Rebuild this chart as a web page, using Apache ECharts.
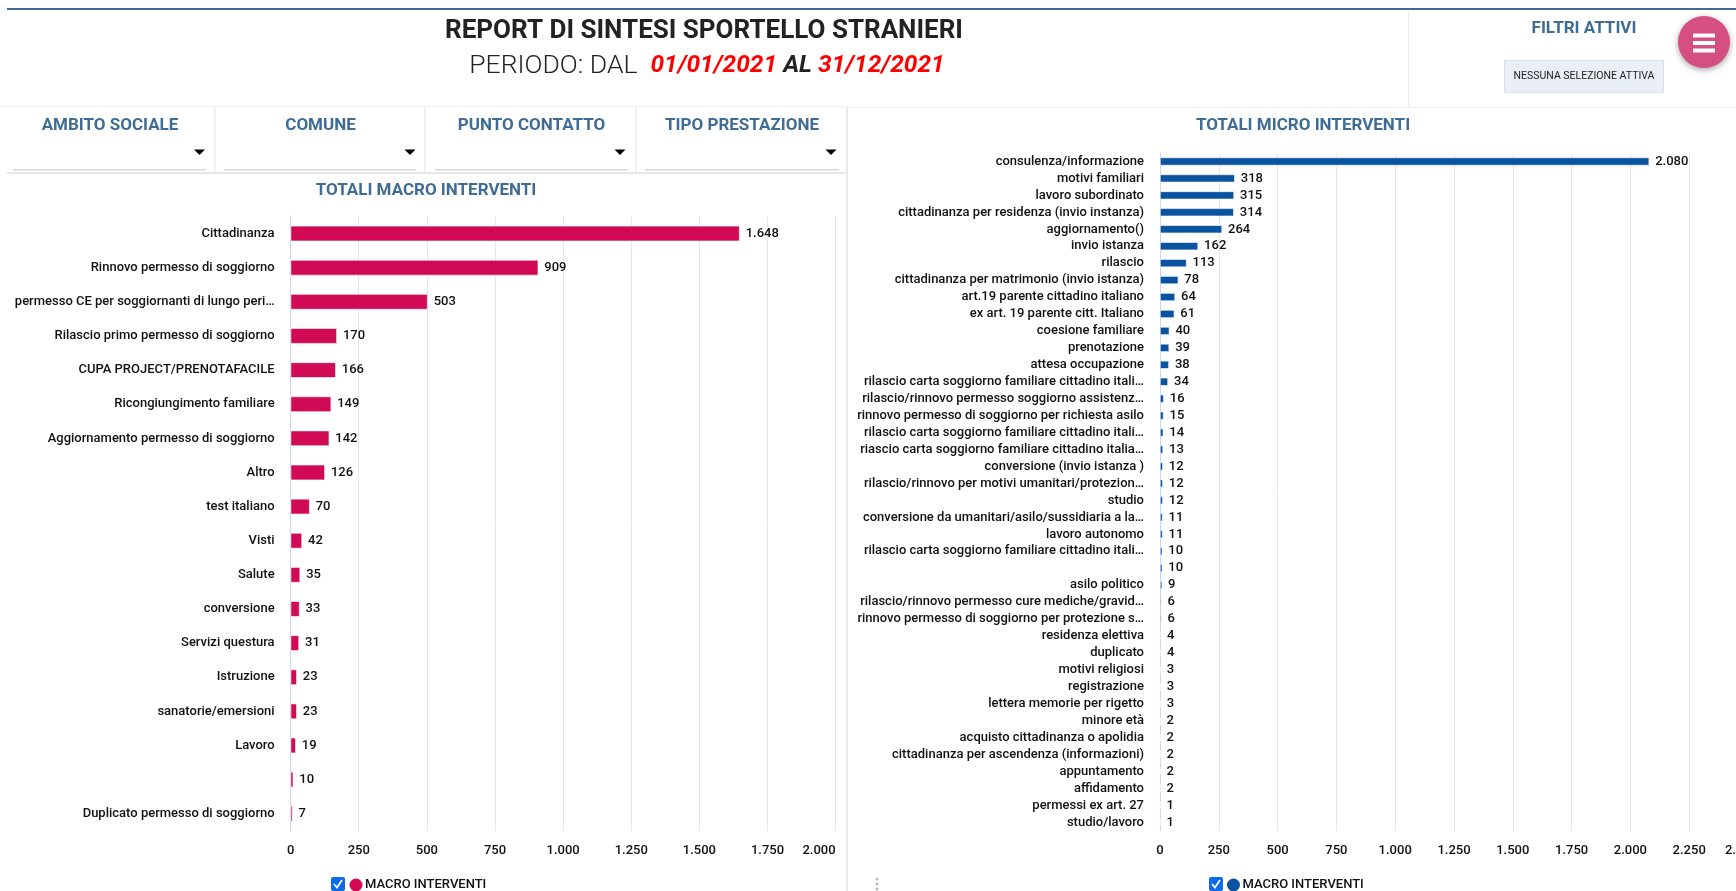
<!DOCTYPE html>
<html><head><meta charset="utf-8">
<style>html,body{margin:0;padding:0;background:#fff;overflow:hidden}#c{width:1736px;height:891px}</style>
<script src="https://cdn.jsdelivr.net/npm/echarts@6/dist/echarts.min.js"></script>
</head><body><div id="c"></div>
<script>
const macroCategories = ["Cittadinanza","Rinnovo permesso di soggiorno","permesso CE per soggiornanti di lungo peri…","Rilascio primo permesso di soggiorno","CUPA PROJECT/PRENOTAFACILE","Ricongiungimento familiare","Aggiornamento permesso di soggiorno","Altro","test italiano","Visti","Salute","conversione","Servizi questura","Istruzione","sanatorie/emersioni","Lavoro","","Duplicato permesso di soggiorno"];
const macroValues = [1648,909,503,170,166,149,142,126,70,42,35,33,31,23,23,19,10,7];
const microCategories = ["consulenza/informazione","motivi familiari","lavoro subordinato","cittadinanza per residenza (invio instanza)","aggiornamento()","invio istanza","rilascio","cittadinanza per matrimonio (invio istanza)","art.19 parente cittadino italiano","ex art. 19 parente citt. Italiano","coesione familiare","prenotazione","attesa occupazione","rilascio carta soggiorno familiare cittadino itali…","rilascio/rinnovo permesso soggiorno assistenz…","rinnovo permesso di soggiorno per richiesta asilo","rilascio carta soggiorno familiare cittadino itali…","riascio carta soggiorno familiare cittadino italia…","conversione (invio istanza )","rilascio/rinnovo per motivi umanitari/protezion…","studio","conversione da umanitari/asilo/sussidiaria a la…","lavoro autonomo","rilascio carta soggiorno familiare cittadino itali…","","asilo politico","rilascio/rinnovo permesso cure mediche/gravid…","rinnovo permesso di soggiorno per protezione s…","residenza elettiva","duplicato","motivi religiosi","registrazione","lettera memorie per rigetto","minore età","acquisto cittadinanza o apolidia","cittadinanza per ascendenza (informazioni)","appuntamento","affidamento","permessi ex art. 27","studio/lavoro"];
const microValues = [2080,318,315,314,264,162,113,78,64,61,40,39,38,34,16,15,14,13,12,12,12,11,11,10,10,9,6,6,4,4,3,3,3,2,2,2,2,2,1,1];
const filterLabels = ["AMBITO SOCIALE","COMUNE","PUNTO CONTATTO","TIPO PRESTAZIONE"];

const FONT = 'Roboto';
const BLUE = '#3f6c94';
const fmt = v => String(v).replace(/\B(?=(\d{3})+$)/g,'.');
const txt = (x,y,text,size,weight,fill,extra) => ({type:'text',silent:true,x,y,style:Object.assign({text,font:`${weight} ${size}px ${FONT}`,fill,align:'center',verticalAlign:'middle'},extra||{})});
const rect = (x,y,w,h,fill,extra) => ({type:'rect',silent:true,shape:{x,y,width:w,height:h},style:Object.assign({fill},extra||{})});

const g = [];
g.push(rect(7,8,1729,2,BLUE));
g.push(rect(1408,11,1,95,'#e8ebf0'));
g.push(rect(847,107,889,1,'#eeeeee'));
g.push(rect(0,106,847,1,'#f2f2f2'));
g.push(rect(846,107,2,784,'#ececec'));
g.push(rect(7,172,840,2,'#e6e6e6'));
g.push(txt(704,31,'REPORT DI SINTESI SPORTELLO STRANIERI',26,'bold','#222'));
g.push({type:'text',silent:true,x:707,y:66,style:{
  text:'{a|PERIODO: DAL  }{b|01/01/2021 }{c|AL }{b|31/12/2021}',
  align:'center',verticalAlign:'middle',
  rich:{a:{font:`300 26.5px ${FONT}`,fill:'#222'},b:{font:`italic bold 24.5px ${FONT}`,fill:'#f00'},c:{font:`italic bold 24.5px ${FONT}`,fill:'#222'}}
}});
g.push(txt(1584,29,'FILTRI ATTIVI',17,'bold',BLUE));
g.push(rect(1504.5,60.5,159,32,'#eaeff6',{stroke:'#d5e2ee',lineWidth:1}));
g.push(txt(1584,76.5,'NESSUNA SELEZIONE ATTIVA',10.5,'normal','#222'));
g.push({type:'circle',silent:true,shape:{cx:1704,cy:42,r:26},style:{fill:'#d64f82',shadowBlur:6,shadowColor:'rgba(0,0,0,.35)',shadowOffsetY:2}});
[33.5,41,48.5].forEach(y=>g.push(rect(1693,y,22,4,'#fff',{})));

const filterCentres=[110,320.5,531.5,742], lineX=[[13,193],[224,192],[435,193],[645,194]], arrowX=[199.5,410,620,831], divX=[214,424,635];
filterLabels.forEach((t,i)=>{
  g.push(txt(filterCentres[i],126,t,17,'bold',BLUE));
  g.push(rect(lineX[i][0],169,lineX[i][1],1.5,'#d8d8d8'));
  g.push({type:'polygon',silent:true,shape:{points:[[arrowX[i]-5.5,149.5],[arrowX[i]+5.5,149.5],[arrowX[i],155]]},style:{fill:'#000'}});
  if(i<3) g.push(rect(divX[i],107,1.5,66,'#ececec'));
});
g.push(txt(426,191,'TOTALI MACRO INTERVENTI',17,'bold',BLUE));
g.push(txt(1303,126,'TOTALI MICRO INTERVENTI',17,'bold',BLUE));
[879,884,889].forEach(y=>g.push({type:'circle',silent:true,shape:{cx:877,cy:y,r:1.5},style:{fill:'#bbb'}}));
[[331,877],[1209,877]].forEach(p=>{
  g.push({type:'rect',silent:true,shape:{x:p[0],y:p[1],width:14,height:14,r:2},style:{fill:'#0b6bea'}});
  g.push({type:'polyline',silent:true,shape:{points:[[p[0]+3,p[1]+7],[p[0]+6,p[1]+10.5],[p[0]+11,p[1]+3]]},style:{stroke:'#fff',lineWidth:1.8,fill:null}});
});

const catAxis=(idx,data,margin,padTop)=>({type:'category',gridIndex:idx,inverse:true,data,
  axisLine:{show:true,lineStyle:{color:'#ccd6eb',width:1}},axisTick:{show:false},splitLine:{show:false},
  axisLabel:{interval:0,margin,color:'#111',fontFamily:FONT,fontWeight:500,fontSize:13,align:'right',padding:[padTop,0,0,0]}});
const labelFont={color:'#111',fontFamily:FONT,fontWeight:500,fontSize:13};
const valAxis=(idx,max,alignMax,formatter)=>({type:'value',gridIndex:idx,min:0,max,interval:250,
  axisLine:{show:false},axisTick:{show:false},splitLine:{show:true,lineStyle:{color:'#e6e6e6',width:1}},
  axisLabel:Object.assign({margin:13,formatter,alignMaxLabel:alignMax,showMaxLabel:true,hideOverlap:false,
    rich:{last:Object.assign({padding:[0,13,0,0]},labelFont)}},labelFont)});
const bar=(idx,data,color,w)=>({type:'bar',name:'MACRO INTERVENTI',xAxisIndex:idx,yAxisIndex:idx,data,barWidth:w,animation:false,
  itemStyle:{color,borderColor:'#fff',borderWidth:0.6},
  label:Object.assign({show:true,position:'right',distance:6,padding:[4,0,0,0],formatter:p=>fmt(p.value)},labelFont)});
const leg=(left,color)=>({left,top:876.5,padding:0,itemWidth:15,itemHeight:16,itemGap:0,selectedMode:false,icon:'circle',
  data:[{name:'MACRO INTERVENTI',itemStyle:{color}}],
  textStyle:Object.assign({padding:[0,0,0,-3.5]},labelFont)});

const chart=echarts.init(document.getElementById('c'),null,{renderer:'canvas'});
chart.setOption({
  animation:false,backgroundColor:'#fff',
  grid:[{left:290.6,top:216.5,width:545,height:614.3,containLabel:false,outerBoundsMode:'none'},{left:1160,top:153,width:588,height:677.8,containLabel:false,outerBoundsMode:'none'}],
  xAxis:[valAxis(0,2000,'right',fmt),valAxis(1,2500,'center',v=>v===2500?`{last|${fmt(v)}}`:fmt(v))],
  yAxis:[catAxis(0,macroCategories,16,4),catAxis(1,microCategories,16,3)],
  legend:[leg(347.5,'#d10a56'),leg(1225,'#0a53a0')],
  series:[bar(0,macroValues,'#d10a56',15.5),bar(1,microValues,'#0a53a0',8)],
  graphic:{elements:g}
});
</script></body></html>
